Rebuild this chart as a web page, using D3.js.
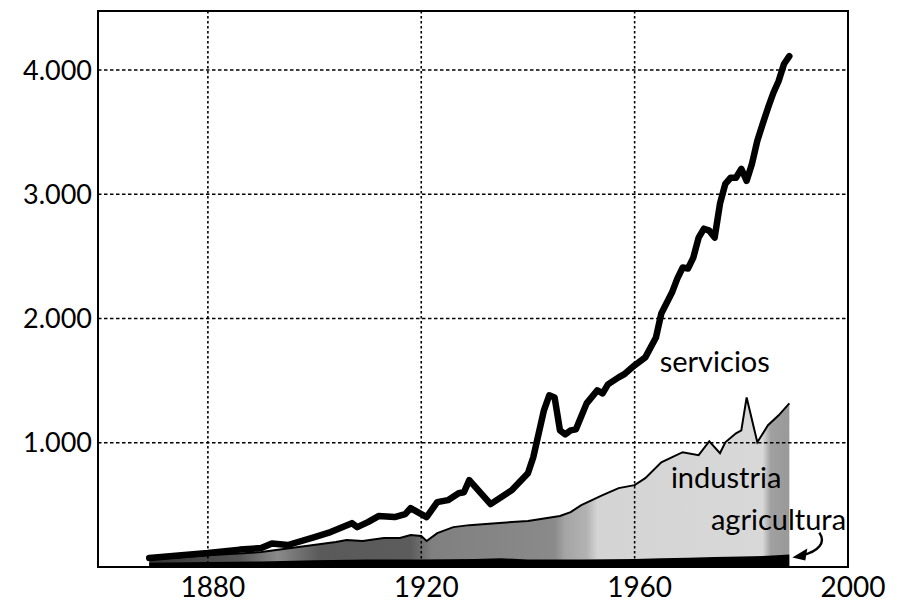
<!DOCTYPE html>
<html>
<head>
<meta charset="utf-8">
<script src="https://cdn.jsdelivr.net/npm/d3@7"></script>
<style>
  html, body { margin: 0; padding: 0; background: #fff; }
  svg { display: block; }
  text { font-family: Lato, "Open Sans", sans-serif; fill: #000; }
</style>
</head>
<body>
<svg id="chart" width="904" height="604"></svg>
<script>
// ---- Data ----
const servYears = [1869,1880,1886,1890,1892,1895,1900,1903,1907,1908,1910,1912,1915,1917,1918,1921,1923,1925,1927,1928,1929,1933,1937,1940,1941,1943,1944,1945,1946,1947,1948,1949,1951,1953,1954,1955,1957,1958,1960,1962,1964,1965,1967,1968,1969,1970,1971,1972,1973,1974,1975,1976,1977,1978,1979,1980,1981,1982,1983,1984,1985,1986,1987,1988,1989];
const servValues = [72,112,140,153,190,177,241,281,353,321,361,410,402,426,474,402,522,538,594,602,699,506,619,755,884,1261,1382,1365,1100,1068,1100,1108,1317,1422,1398,1470,1526,1550,1623,1687,1847,2040,2209,2321,2410,2402,2490,2651,2723,2707,2651,2924,3084,3133,3133,3205,3108,3245,3430,3566,3695,3815,3912,4048,4112];

const indYears = [1869,1880,1890,1904,1906,1909,1913,1916,1918,1920,1921,1923,1926,1929,1934,1940,1946,1948,1950,1954,1957,1960,1962,1965,1969,1972,1974,1976,1977,1979,1980,1981,1983,1985,1987,1989];
const indValues = [60,95,120,201,217,209,233,233,257,249,209,273,321,337,353,370,410,442,498,578,635,659,715,843,924,900,1012,916,1004,1076,1100,1365,1004,1141,1221,1317];

const agrYears = [1869,1880,1890,1900,1910,1920,1930,1935,1940,1950,1960,1965,1970,1975,1980,1985,1989];
const agrValues = [35,40,45,55,60,60,65,70,60,60,65,70,75,80,85,90,100];

const xTicks = [1880, 1920, 1960, 2000];
const yTicks = [1000, 2000, 3000, 4000];
const yTickLabels = ["1.000", "2.000", "3.000", "4.000"];

// ---- Layout ----
const svg = d3.select("#chart");
const mLeft = 98, mRight = 848, mTop = 11, mBottom = 567;
const x = d3.scaleLinear().domain([1859.4, 2000]).range([mLeft, mRight]);
const y = d3.scaleLinear().domain([0, 4475]).range([mBottom, mTop]);

const serv = servYears.map((d, i) => ({ year: d, v: servValues[i] }));
const ind = indYears.map((d, i) => ({ year: d, v: indValues[i] }));
const agr = agrYears.map((d, i) => ({ year: d, v: agrValues[i] }));

// gradient for the industria area (halftone look)
const defs = svg.append("defs");
const grad = defs.append("linearGradient")
  .attr("id", "indGrad")
  .attr("gradientUnits", "userSpaceOnUse")
  .attr("x1", x(1869)).attr("x2", x(1989)).attr("y1", 0).attr("y2", 0);
const stops = [
  [1869, "#333333"], [1886, "#555555"], [1893, "#8a8a8a"], [1901, "#5a5a5a"],
  [1918, "#5c5c5c"], [1922, "#808080"], [1945, "#8a8a8a"], [1947, "#a5a5a5"],
  [1951, "#b2b2b2"], [1953, "#d4d4d4"], [1984, "#d8d8d8"], [1985.5, "#a0a0a0"], [1989, "#999999"]
];
stops.forEach(([yr, c]) => {
  grad.append("stop").attr("offset", (yr - 1869) / (1989 - 1869)).attr("stop-color", c);
});

// industria area
svg.append("path")
  .datum(ind)
  .attr("fill", "url(#indGrad)")
  .attr("d", d3.area().x(d => x(d.year)).y0(y(0)).y1(d => y(d.v)));

// gridlines
const grid = svg.append("g");
grid.selectAll("line.h").data(yTicks).join("line")
  .attr("class", "h")
  .attr("x1", mLeft).attr("x2", mRight)
  .attr("y1", d => y(d)).attr("y2", d => y(d))
  .attr("stroke", "#000").attr("stroke-width", 1.6).attr("stroke-dasharray", "3.5,2.5");
grid.selectAll("line.v").data(xTicks.filter(d => d < 2000)).join("line")
  .attr("class", "v")
  .attr("y1", mTop).attr("y2", mBottom)
  .attr("x1", d => x(d)).attr("x2", d => x(d))
  .attr("stroke", "#000").attr("stroke-width", 1.6).attr("stroke-dasharray", "2.5,2.5");

// industria top line
svg.append("path")
  .datum(ind)
  .attr("fill", "none").attr("stroke", "#000").attr("stroke-width", 2)
  .attr("d", d3.line().x(d => x(d.year)).y(d => y(d.v)));

// agricultura area
svg.append("path")
  .datum(agr)
  .attr("fill", "#000")
  .attr("d", d3.area().x(d => x(d.year)).y0(y(0)).y1(d => y(d.v)));

// servicios line
svg.append("path")
  .datum(serv)
  .attr("fill", "none").attr("stroke", "#000").attr("stroke-width", 6.5)
  .attr("stroke-linejoin", "round").attr("stroke-linecap", "round")
  .attr("d", d3.line().x(d => x(d.year)).y(d => y(d.v)));

// frame
svg.append("rect")
  .attr("x", mLeft).attr("y", mTop).attr("width", mRight - mLeft).attr("height", mBottom - mTop)
  .attr("fill", "none").attr("stroke", "#000").attr("stroke-width", 2);

// y labels
svg.selectAll("text.ylab").data(yTicks).join("text")
  .attr("class", "ylab")
  .attr("x", mLeft - 6).attr("y", d => y(d))
  .attr("dy", "0.36em")
  .attr("text-anchor", "end")
  .attr("font-size", 27)
  .text((d, i) => yTickLabels[i]);

// x labels
svg.selectAll("text.xlab").data(xTicks).join("text")
  .attr("class", "xlab")
  .attr("x", d => x(d) + 5).attr("y", 597)
  .attr("text-anchor", "middle")
  .attr("font-size", 28)
  .text(d => d);

// series labels
svg.append("text").attr("x", x(1964.7)).attr("y", y(1566)).attr("font-size", 29).text("servicios");
svg.append("text").attr("x", x(1966.8)).attr("y", y(634)).attr("font-size", 29).text("industria");
svg.append("text").attr("x", x(1974.3)).attr("y", y(297)).attr("font-size", 29).text("agricultura");

// arrow pointing at agricultura end
const ax = x(1989), ay = y(agrValues[agrValues.length - 1]);
svg.append("path")
  .attr("fill", "none").attr("stroke", "#000").attr("stroke-width", 2.4)
  .attr("d", `M${ax + 30},${ay - 22} C${ax + 37},${ay - 12} ${ax + 29},${ay - 3} ${ax + 13},${ay + 0.5}`);
svg.append("path")
  .attr("fill", "#000")
  .attr("d", `M${ax + 3},${ay + 3} L${ax + 18},${ay - 6} L${ax + 16},${ay + 6} Z`);
</script>
</body>
</html>
